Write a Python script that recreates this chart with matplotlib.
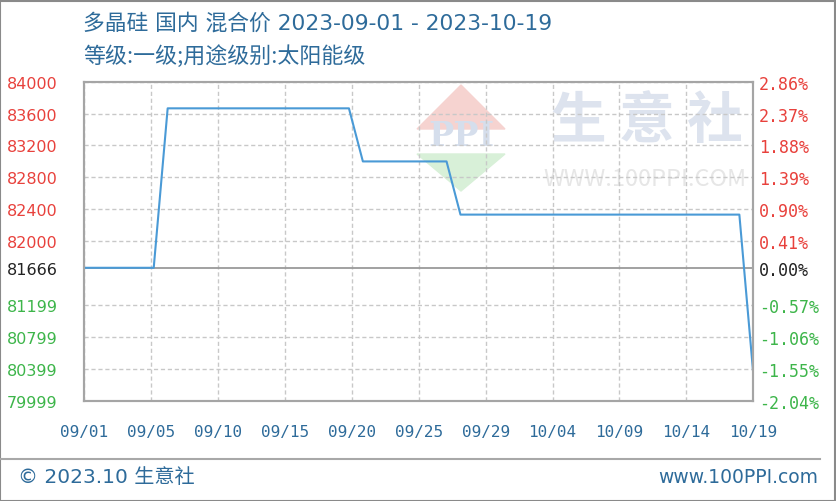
import numpy as np
import pandas as pd
import matplotlib
matplotlib.use("Agg")
import matplotlib.pyplot as plt
from matplotlib.patches import Polygon, Rectangle
from matplotlib.lines import Line2D

plt.rcParams['font.family'] = ['Noto Sans CJK SC', 'DejaVu Sans']

# ---- data ----
title = "多晶硅 国内 混合价 2023-09-01 - 2023-10-19"
subtitle = "等级:一级;用途级别:太阳能级"
start_date = "2023-09-01"
end_date = "2023-10-19"
prices = [81666, 81666, 81666, 81666, 81666, 81666,
          83666, 83666, 83666, 83666, 83666, 83666, 83666,
          83666, 83666, 83666, 83666, 83666, 83666, 83666,
          83000, 83000, 83000, 83000, 83000, 83000, 83000,
          82333, 82333, 82333, 82333, 82333, 82333, 82333,
          82333, 82333, 82333, 82333, 82333, 82333, 82333,
          82333, 82333, 82333, 82333, 82333, 82333, 82333,
          80333]
base_price = 81666
left_ticks = [84000, 83600, 83200, 82800, 82400, 82000, 81666, 81199, 80799, 80399, 79999]
right_labels = ["2.86%", "2.37%", "1.88%", "1.39%", "0.90%", "0.41%", "0.00%",
                "-0.57%", "-1.06%", "-1.55%", "-2.04%"]
x_labels = ["09/01", "09/05", "09/10", "09/15", "09/20", "09/25", "09/29",
            "10/04", "10/09", "10/14", "10/19"]
footer_left = "© 2023.10 生意社"
footer_right = "www.100PPI.com"

dates = pd.date_range(start_date, end_date, freq="D")

W, H = 837, 502
fig = plt.figure(figsize=(W / 100, H / 100), dpi=100)
fig.patch.set_facecolor("white")

ax = fig.add_axes([84 / W, 1 - 401.7 / H, (753.3 - 84) / W, (401.7 - 82.7) / H])
ax.set_xlim(dates[0], dates[-1])
ax.set_ylim(min(left_ticks), max(left_ticks))

red = "#e8413c"
green = "#3db54a"
blue_txt = "#2e6b9a"

def col(v):
    if v > base_price:
        return red
    if v < base_price:
        return green
    return "#222222"

# grid
xt = pd.to_datetime(np.linspace(dates[0].value, dates[-1].value, len(x_labels)))
for v in left_ticks:
    if v == base_price:
        ax.axhline(v, color="#9a9a9a", lw=1.3, zorder=2)
    else:
        ax.axhline(v, color="#c8c8c8", lw=1.0, ls=(0, (3, 2)), zorder=1)
for d in xt:
    ax.axvline(d, color="#c8c8c8", lw=1.0, ls=(0, (3, 2)), zorder=1)

ax.set_yticks(left_ticks)
ax.set_yticklabels([str(v) for v in left_ticks], fontsize=11.5, family="DejaVu Sans")
for lab, v in zip(ax.get_yticklabels(), left_ticks):
    lab.set_color(col(v))
ax.tick_params(axis="y", length=0, pad=19)

ax2 = ax.twinx()
ax2.set_ylim(ax.get_ylim())
ax2.set_yticks(left_ticks)
ax2.set_yticklabels(right_labels, fontsize=12, family="DejaVu Sans Mono")
for lab, v in zip(ax2.get_yticklabels(), left_ticks):
    lab.set_color(col(v))
ax2.tick_params(axis="y", length=0, pad=4)

ax.set_xticks(xt)
ax.set_xticklabels(x_labels, fontsize=11.5, family="DejaVu Sans Mono", color=blue_txt)
ax.tick_params(axis="x", length=0, pad=17)

for a in (ax, ax2):
    for s in a.spines.values():
        s.set_color("#a5a5a5")
        s.set_linewidth(1.5)

# watermark
wm = fig.add_axes([0, 0, 1, 1], zorder=0.5)
wm.set_xlim(0, W)
wm.set_ylim(H, 0)
wm.axis("off")
wm.patch.set_alpha(0)
wm.add_patch(Polygon([[417, 130], [461, 86], [505, 130]], closed=True, color="#f6d3d0", zorder=0))
wm.add_patch(Polygon([[417, 155], [505, 155], [461, 192]], closed=True, color="#d8f0d8", zorder=0))
wm.text(461, 137, "PPI", fontsize=24, family="DejaVu Serif", weight="bold", color="#d5deec",
        ha="center", va="center")
wm.text(647, 122, "生 意 社", fontsize=40, color="#dde3ee", ha="center", va="center", weight="bold")
wm.text(645, 180, "WWW.100PPI.COM", fontsize=17, color="#e6e6e6", ha="center", va="center")
ax.set_zorder(1)
ax.patch.set_alpha(0)
ax2.set_zorder(1)

ax.plot(dates, prices, color="#4a9ad6", lw=1.5, zorder=3)

# titles
fig.text(83 / W, 1 - 23 / H, title, fontsize=15.7, color=blue_txt, va="center", ha="left",
         family=["DejaVu Sans", "Noto Sans CJK SC"])
fig.text(83 / W, 1 - 57 / H, subtitle, fontsize=15.8, color=blue_txt, va="center", ha="left")

# footer
fig.add_artist(Line2D([0, 820 / W], [1 - 460 / H, 1 - 460 / H], color="#a8a8a8", lw=1.5))
fig.text(18 / W, 1 - 478 / H, footer_left, fontsize=14.5, color=blue_txt, va="center", ha="left",
         family=["DejaVu Sans", "Noto Sans CJK SC"])
fig.text(818 / W, 1 - 478 / H, footer_right, fontsize=13.5, color=blue_txt, va="center", ha="right",
         family=["DejaVu Sans"])
fig.add_artist(Rectangle((0.5 / W, 0.5 / H), (W - 2) / W, (H - 2) / H, fill=False,
                         edgecolor="#8a8a8a", lw=1.5, transform=fig.transFigure))

fig.savefig("out.png", dpi=100)
